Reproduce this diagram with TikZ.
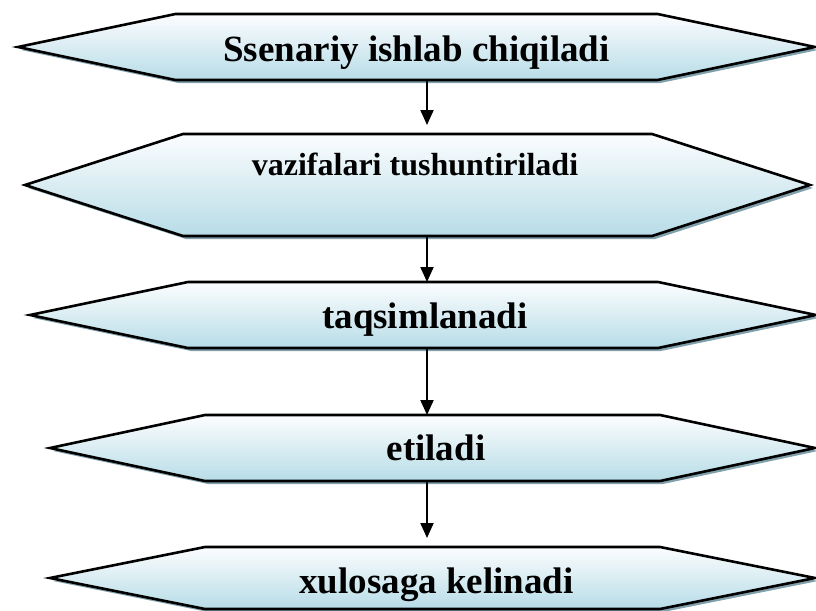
\documentclass[tikz,border=0pt]{standalone}
\usepackage{fontspec}
\setmainfont{Liberation Serif}
\usetikzlibrary{arrows.meta,calc}
\definecolor{fillTop}{RGB}{252,253,254}
\definecolor{fillBot}{RGB}{183,220,231}
\definecolor{shadowc}{RGB}{128,160,172}
\tikzset{
  hexbox/.style={inner sep=0pt,outer sep=0pt,draw=none,rectangle},
  hexline/.style={draw=black,line width=2.6pt,top color=fillTop,bottom color=fillBot},
  lbl/.style={inner sep=0pt,font=\bfseries\fontsize{37}{40}\selectfont},
  lblsmall/.style={inner sep=0pt,font=\bfseries\fontsize{32}{36}\selectfont},
  arr/.style={draw=black,line width=2pt,-{Triangle[length=15pt,width=13pt]}}
}
% name, cx, cy, width, height, inset
\newcommand\hexshape[6]{%
  \node[hexbox,minimum width=#4pt,minimum height=#5pt] (#1) at (#2,#3) {};
  \fill[shadowc] ({#2-#4/2+3},{#3+3}) -- ({#2-#4/2+#6+3},{#3-#5/2+3}) -- ({#2+#4/2-#6+3},{#3-#5/2+3}) -- ({#2+#4/2+3},{#3+3}) -- ({#2+#4/2-#6+3},{#3+#5/2+3}) -- ({#2-#4/2+#6+3},{#3+#5/2+3}) -- cycle;
  \path[hexline] ({#2-#4/2},{#3}) -- ({#2-#4/2+#6},{#3-#5/2}) -- ({#2+#4/2-#6},{#3-#5/2}) -- ({#2+#4/2},{#3}) -- ({#2+#4/2-#6},{#3+#5/2}) -- ({#2-#4/2+#6},{#3+#5/2}) -- cycle;
}
\begin{document}
\begin{tikzpicture}[x=1pt,y=-1pt]
\path[use as bounding box,clip] (0,0) rectangle (816,610);
\hexshape{s1}{416.5}{47}{797}{66}{157.5}
\hexshape{s2}{417.5}{185}{785}{102}{158}
\hexshape{s3}{423}{315}{786}{66}{158}
\hexshape{s4}{432.5}{448}{765}{66}{155}
\hexshape{s5}{432.5}{578}{765}{62}{155}
\node[lbl,anchor=base] (t1) at (416.5,62) {Ssenariy ishlab chiqiladi};
\node[lblsmall,anchor=base] (t2) at (415,175) {vazifalari tushuntiriladi};
\node[lbl,anchor=base] (t3) at (425,328) {taqsimlanadi};
\node[lbl,anchor=base] (t4) at (436,460) {etiladi};
\node[lbl,anchor=base] (t5) at (436.5,593) {xulosaga kelinadi};
\coordinate (ax) at (427,0);
\draw[arr,shorten >=9pt] (s1.south -| ax) -- (s2.north -| ax);
\draw[arr] (s2.south -| ax) -- (s3.north -| ax);
\draw[arr] (s3.south -| ax) -- (s4.north -| ax);
\draw[arr,shorten >=9pt] (s4.south -| ax) -- (s5.north -| ax);
\end{tikzpicture}
\end{document}
